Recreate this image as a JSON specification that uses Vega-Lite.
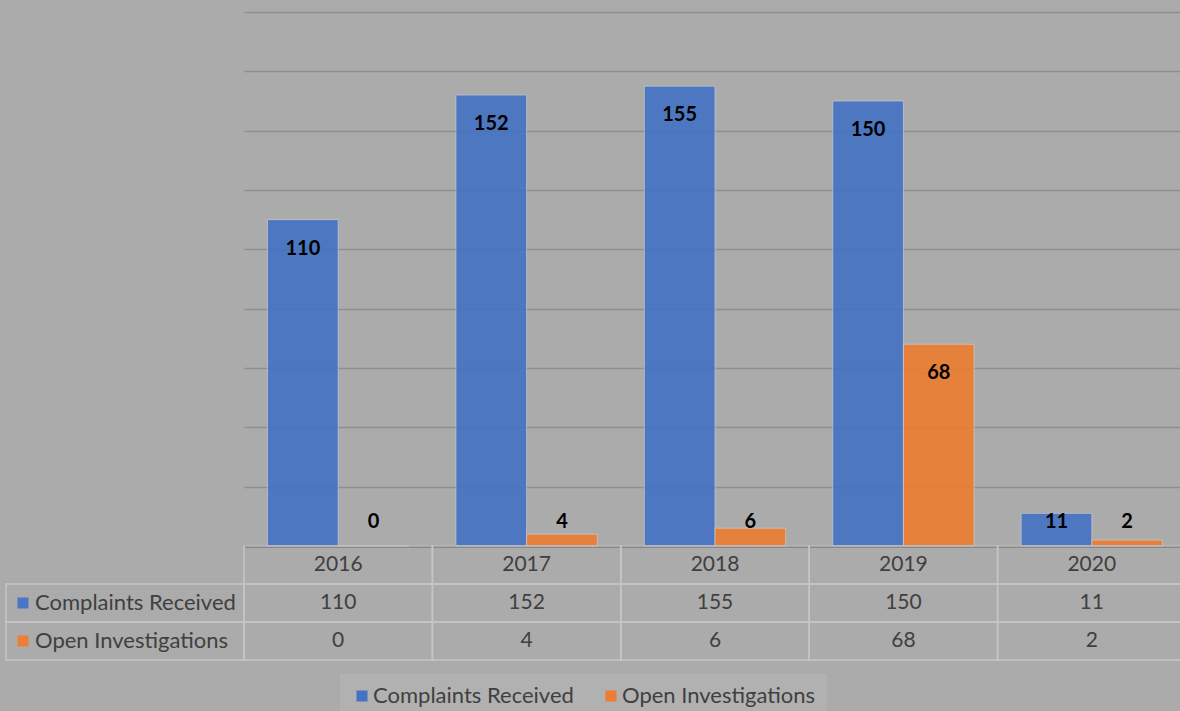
{
  "$schema": "https://vega.github.io/schema/vega-lite/v6.json",
  "background": "#ababab",
  "padding": {"left": 5, "top": 12, "right": 0, "bottom": 0},
  "autosize": {"type": "pad"},
  "bounds": "flush",
  "spacing": 0,
  "columns": 2,
  "config": {
    "view": {"stroke": null},
    "font": "Lato",
    "legend": {
      "orient": "none",
      "legendX": 96,
      "legendY": 662,
      "direction": "horizontal",
      "symbolType": "square",
      "symbolSize": 121,
      "symbolStrokeWidth": 0,
      "symbolOpacity": 1,
      "labelFont": "Lato",
      "labelFontSize": 22,
      "labelColor": "#404040",
      "labelOffset": 0,
      "labelLimit": 0,
      "columnPadding": 26,
      "padding": 11,
      "fillColor": "#b1b1b1",
      "title": null
    }
  },
  "resolve": {"scale": {"color": "independent"}, "legend": {"color": "independent"}},
  "datasets": {
    "d": [
      {"year": "2016", "series": "Complaints Received", "value": 110},
      {"year": "2016", "series": "Open Investigations", "value": 0},
      {"year": "2017", "series": "Complaints Received", "value": 152},
      {"year": "2017", "series": "Open Investigations", "value": 4},
      {"year": "2018", "series": "Complaints Received", "value": 155},
      {"year": "2018", "series": "Open Investigations", "value": 6},
      {"year": "2019", "series": "Complaints Received", "value": 150},
      {"year": "2019", "series": "Open Investigations", "value": 68},
      {"year": "2020", "series": "Complaints Received", "value": 11},
      {"year": "2020", "series": "Open Investigations", "value": 2}
    ]
  },
  "concat": [
    {
      "width": 238,
      "height": 534,
      "data": {"values": [{}]},
      "mark": {"type": "text", "text": ""},
      "encoding": {}
    },
    {
      "width": 942,
      "height": 534,
      "data": {"name": "d"},
      "encoding": {
        "x": {
          "field": "year", "type": "nominal",
          "scale": {"paddingInner": 0.25, "paddingOuter": 0.125},
          "axis": {"labels": false, "ticks": false, "title": null, "domainColor": "#3a3a3a", "domainWidth": 1.5}
        }
      },
      "layer": [
        {
          "mark": {"type": "bar", "opacity": 0.9, "stroke": "#d8d8d8", "strokeWidth": 1, "strokeOpacity": 0.6},
          "encoding": {
            "xOffset": {"field": "series", "type": "nominal", "sort": ["Complaints Received", "Open Investigations"]},
            "y": {
              "field": "value", "type": "quantitative",
              "scale": {"domain": [0, 180]},
              "axis": {"title": null, "labels": false, "ticks": false, "domain": false, "grid": true, "gridColor": "#8e8e8e", "gridWidth": 1.5, "values": [0, 20, 40, 60, 80, 100, 120, 140, 160, 180]}
            },
            "color": {
              "field": "series", "type": "nominal",
              "scale": {"domain": ["Complaints Received", "Open Investigations"], "range": ["#4472C4", "#ED7D31"]}
            }
          }
        },
        {
          "transform": [{"calculate": "max(datum.value, 18)", "as": "labelPos"}],
          "mark": {"type": "text", "dy": 29, "baseline": "middle", "font": "Lato", "fontWeight": "bold", "fontSize": 20, "color": "#000000"},
          "encoding": {
            "xOffset": {"field": "series", "type": "nominal", "sort": ["Complaints Received", "Open Investigations"]},
            "y": {"field": "labelPos", "type": "quantitative", "scale": {"domain": [0, 180]}},
            "text": {"field": "value", "type": "quantitative"}
          }
        }
      ]
    },
    {
      "width": 238,
      "height": 114,
      "data": {"name": "d"},
      "transform": [{"aggregate": [{"op": "count", "as": "n"}], "groupby": ["series"]}],
      "encoding": {
        "y": {
          "field": "series", "type": "nominal",
          "scale": {"domain": ["_year", "Complaints Received", "Open Investigations"], "paddingInner": 0, "paddingOuter": 0},
          "axis": null
        }
      },
      "layer": [
        {
          "mark": {"type": "rect", "fill": null, "stroke": "#c6c6c6", "strokeWidth": 1.5},
          "encoding": {"x": {"value": 0}, "x2": {"value": 238}}
        },
        {
          "mark": {"type": "point", "shape": "square", "filled": true, "size": 121, "opacity": 0.95},
          "encoding": {
            "x": {"value": 17},
            "color": {
              "field": "series", "type": "nominal",
              "scale": {"domain": ["Complaints Received", "Open Investigations"], "range": ["#4472C4", "#ED7D31"]},
              "legend": null
            }
          }
        },
        {
          "mark": {"type": "text", "align": "left", "baseline": "middle", "font": "Lato", "fontSize": 22, "color": "#404040"},
          "encoding": {"x": {"value": 29}, "text": {"field": "series"}}
        }
      ]
    },
    {
      "width": 942,
      "height": 114,
      "data": {"name": "d"},
      "encoding": {
        "x": {"field": "year", "type": "nominal", "scale": {"paddingInner": 0, "paddingOuter": 0}, "axis": null}
      },
      "layer": [
        {
          "mark": {"type": "rect", "fill": null, "stroke": "#c6c6c6", "strokeWidth": 1.5},
          "encoding": {
            "y": {
              "field": "series", "type": "nominal",
              "scale": {"domain": ["_year", "Complaints Received", "Open Investigations"], "paddingInner": 0, "paddingOuter": 0},
              "axis": null
            }
          }
        },
        {
          "mark": {"type": "text", "baseline": "middle", "font": "Lato", "fontSize": 21, "color": "#404040"},
          "encoding": {
            "y": {"field": "series", "type": "nominal", "band": 0.5},
            "text": {"field": "value", "type": "quantitative"}
          }
        },
        {
          "transform": [{"aggregate": [{"op": "count", "as": "n"}], "groupby": ["year"]}],
          "layer": [
            {
              "mark": {"type": "rect", "fill": null, "stroke": "#c6c6c6", "strokeWidth": 1.5},
              "encoding": {"y": {"datum": "_year"}}
            },
            {
              "mark": {"type": "text", "baseline": "middle", "font": "Lato", "fontSize": 21, "color": "#404040"},
              "encoding": {"y": {"datum": "_year", "band": 0.5}, "text": {"field": "year"}}
            }
          ]
        }
      ]
    }
  ]
}
